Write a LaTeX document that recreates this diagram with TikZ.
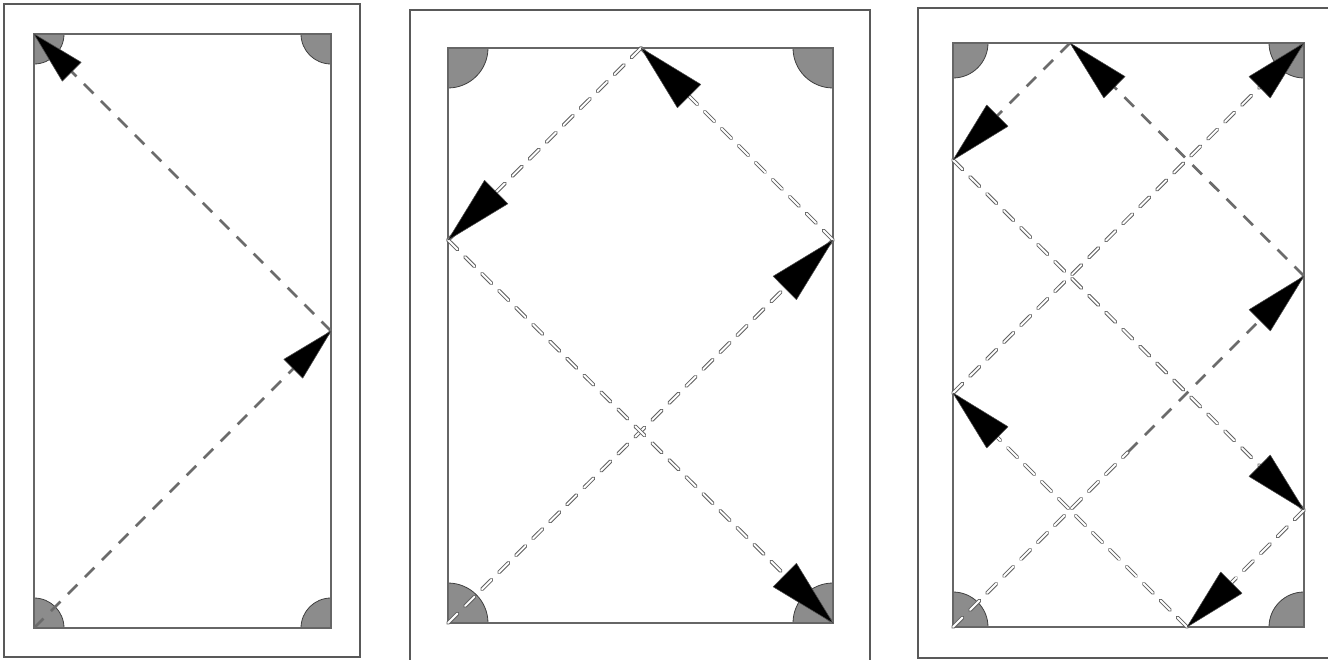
\documentclass[tikz,border=0pt]{standalone}
\usetikzlibrary{calc}
\tikzset{
  frame/.style={draw=black!65, line width=1.4pt},
  tablebox/.style={draw=black!60, line width=2.2pt},
  pocket/.style={fill=black!45, draw=black!75, line width=0.6pt},
  plainpath/.style={draw=black!58, line width=2pt, dash pattern=on 10pt off 8pt},
  chainpath/.style={draw=black!62, double=white, line width=0.75pt, double distance=1.4pt, line cap=round, dash pattern=on 10pt off 8pt},
  tipfill/.style={fill=black, draw=black!70, line width=0.4pt, line join=round},
}
\newcommand\arrowtip[4]{% from, to, length, half width
  \filldraw[tipfill] (#2) -- ($(#2)!#3!(#1)!#4!90:(#2)$) -- ($(#2)!#3!(#1)!#4!-90:(#2)$) -- cycle;}
\newcommand\pockets[5]{% x1,y1,x2,y2,r
  \filldraw[pocket] (#1,#2) -- ++(0:#5) arc[start angle=0,end angle=90,radius=#5] -- cycle;
  \filldraw[pocket] (#3,#2) -- ++(90:#5) arc[start angle=90,end angle=180,radius=#5] -- cycle;
  \filldraw[pocket] (#3,#4) -- ++(180:#5) arc[start angle=180,end angle=270,radius=#5] -- cycle;
  \filldraw[pocket] (#1,#4) -- ++(270:#5) arc[start angle=270,end angle=360,radius=#5] -- cycle;}
\begin{document}
\begin{tikzpicture}[x=0.75pt,y=-0.75pt]
\useasboundingbox (0,0) rectangle (1328,660);
\clip (0,0) rectangle (1328,660);
\fill[white] (0,0) rectangle (1328,660);

% ---------- table 1 ----------
\draw[frame] (4,4) rectangle (360,657);
\pockets{34}{34}{331}{628}{30}
\draw[tablebox] (34,34) rectangle (331,628);
\coordinate (a1) at (34,628);
\coordinate (a2) at (331,331);
\coordinate (a3) at (34,34);
\draw[plainpath] (a1) -- (a2);
\draw[plainpath] (a2) -- (a3);
\arrowtip{a1}{a2}{40pt}{10pt}
\arrowtip{a2}{a3}{40pt}{10pt}

% ---------- table 2 ----------
\draw[frame] (410,10) rectangle (870,680);
\pockets{448}{48}{833}{623}{40}
\draw[tablebox] (448,48) rectangle (833,623);
\coordinate (b1) at (448,623);
\coordinate (b2) at (833,240);
\coordinate (b3) at (641,48);
\coordinate (b4) at (448,240);
\coordinate (b5) at (833,623);
\draw[chainpath] (b1) -- (b2);
\draw[chainpath] (b2) -- (b3);
\draw[chainpath] (b3) -- (b4);
\draw[chainpath] (b4) -- (b5);
\arrowtip{b1}{b2}{51pt}{12.4pt}
\arrowtip{b2}{b3}{51pt}{12.4pt}
\arrowtip{b3}{b4}{51pt}{12.4pt}
\arrowtip{b4}{b5}{51pt}{12.4pt}

% ---------- table 3 ----------
\draw[frame] (918,8) rectangle (1345,658);
\pockets{953}{43}{1304}{627}{35}
\draw[tablebox] (953,43) rectangle (1304,627);
\coordinate (c1) at (953,627);
\coordinate (cm) at (1128,452);
\coordinate (c2) at (1304,276);
\coordinate (c3) at (1070,43);
\coordinate (c4) at (953,160);
\coordinate (c5) at (1304,510);
\coordinate (c6) at (1187,627);
\coordinate (c7) at (953,393);
\coordinate (c8) at (1304,43);
\draw[chainpath] (c1) -- (cm);
\draw[plainpath] (cm) -- (c2);
\draw[plainpath] (c2) -- (c3);
\draw[plainpath] (c3) -- (c4);
\draw[chainpath] (c4) -- (c5);
\draw[chainpath] (c5) -- (c6);
\draw[chainpath] (c6) -- (c7);
\draw[chainpath] (c7) -- (c8);
\arrowtip{c1}{c2}{47pt}{11.3pt}
\arrowtip{c2}{c3}{47pt}{11.3pt}
\arrowtip{c3}{c4}{47pt}{11.3pt}
\arrowtip{c4}{c5}{47pt}{11.3pt}
\arrowtip{c5}{c6}{47pt}{11.3pt}
\arrowtip{c6}{c7}{47pt}{11.3pt}
\arrowtip{c7}{c8}{47pt}{11.3pt}
\end{tikzpicture}
\end{document}
